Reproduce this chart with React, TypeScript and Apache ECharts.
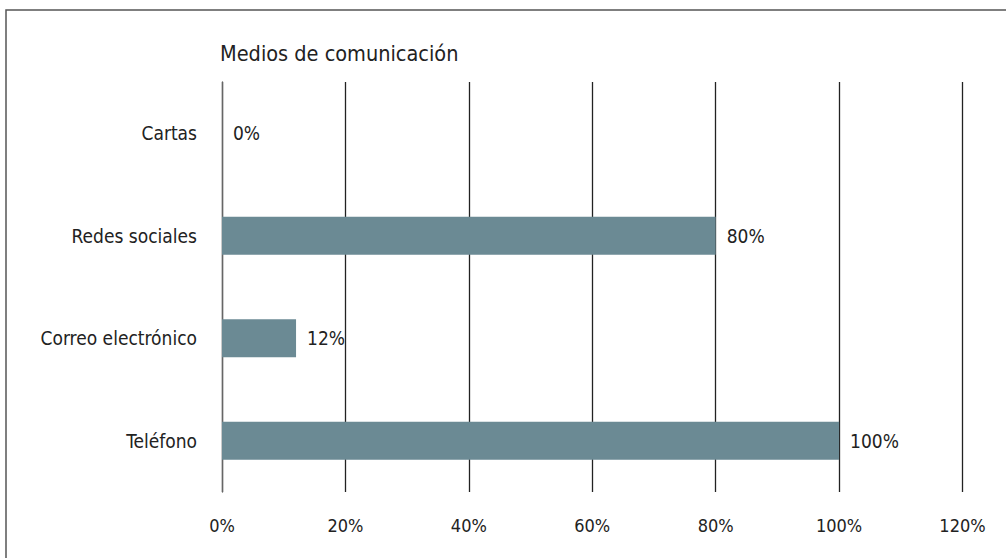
import React, { useEffect, useRef } from "react";
import * as echarts from "echarts";

const categories = ["Teléfono", "Correo electrónico", "Redes sociales", "Cartas"];
const values = [100, 12, 80, 0];
const xTicks = [0, 20, 40, 60, 80, 100, 120];
const title = "Medios de comunicación";

const FONT = "'Liberation Sans Narrow', 'DejaVu Sans Condensed', 'Roboto', sans-serif";

export default function App() {
  const ref = useRef<HTMLDivElement>(null);
  useEffect(() => {
    if (!ref.current) return;
    const chart = echarts.init(ref.current, undefined, { renderer: "svg" });
    chart.setOption({
      animation: false,
      backgroundColor: "#ffffff",
      textStyle: { fontFamily: FONT },
      title: {
        text: title,
        left: 215,
        top: 37,
        textStyle: { fontFamily: FONT, fontSize: 21.5, fontWeight: "normal", color: "#222" },
      },
      graphic: [
        {
          type: "rect",
          shape: { x: 6, y: 10, width: 1020, height: 580 },
          style: { fill: "none", stroke: "#555", lineWidth: 1.5 },
          silent: true,
        },
      ],
      grid: { left: 222, right: 43.5, top: 82, bottom: 66 },
      xAxis: {
        type: "value",
        min: xTicks[0],
        max: xTicks[xTicks.length - 1],
        interval: 20,
        axisLine: { show: false },
        axisTick: { show: false },
        axisLabel: {
          formatter: "{value}%",
          fontFamily: FONT,
          fontSize: 18,
          color: "#222",
          margin: 24,
        },
        splitLine: { show: true, lineStyle: { color: "#222", width: 1.3 } },
      },
      yAxis: {
        type: "category",
        data: categories,
        axisLine: { show: true, lineStyle: { color: "#666", width: 1.3 } },
        axisTick: { show: false },
        axisLabel: { fontFamily: FONT, fontSize: 19, color: "#222", margin: 25 },
        splitLine: { show: false },
      },
      series: [
        {
          type: "bar",
          data: values,
          barWidth: 38,
          itemStyle: { color: "#6b8a94" },
          label: {
            show: true,
            position: "right",
            distance: 11,
            formatter: "{c}%",
            fontFamily: FONT,
            fontSize: 19,
            color: "#222",
          },
        },
      ],
    });
    return () => chart.dispose();
  }, []);
  return (
    <div
      ref={ref}
      style={{ position: "absolute", left: 0, top: 0, width: 1006, height: 558 }}
    />
  );
}
